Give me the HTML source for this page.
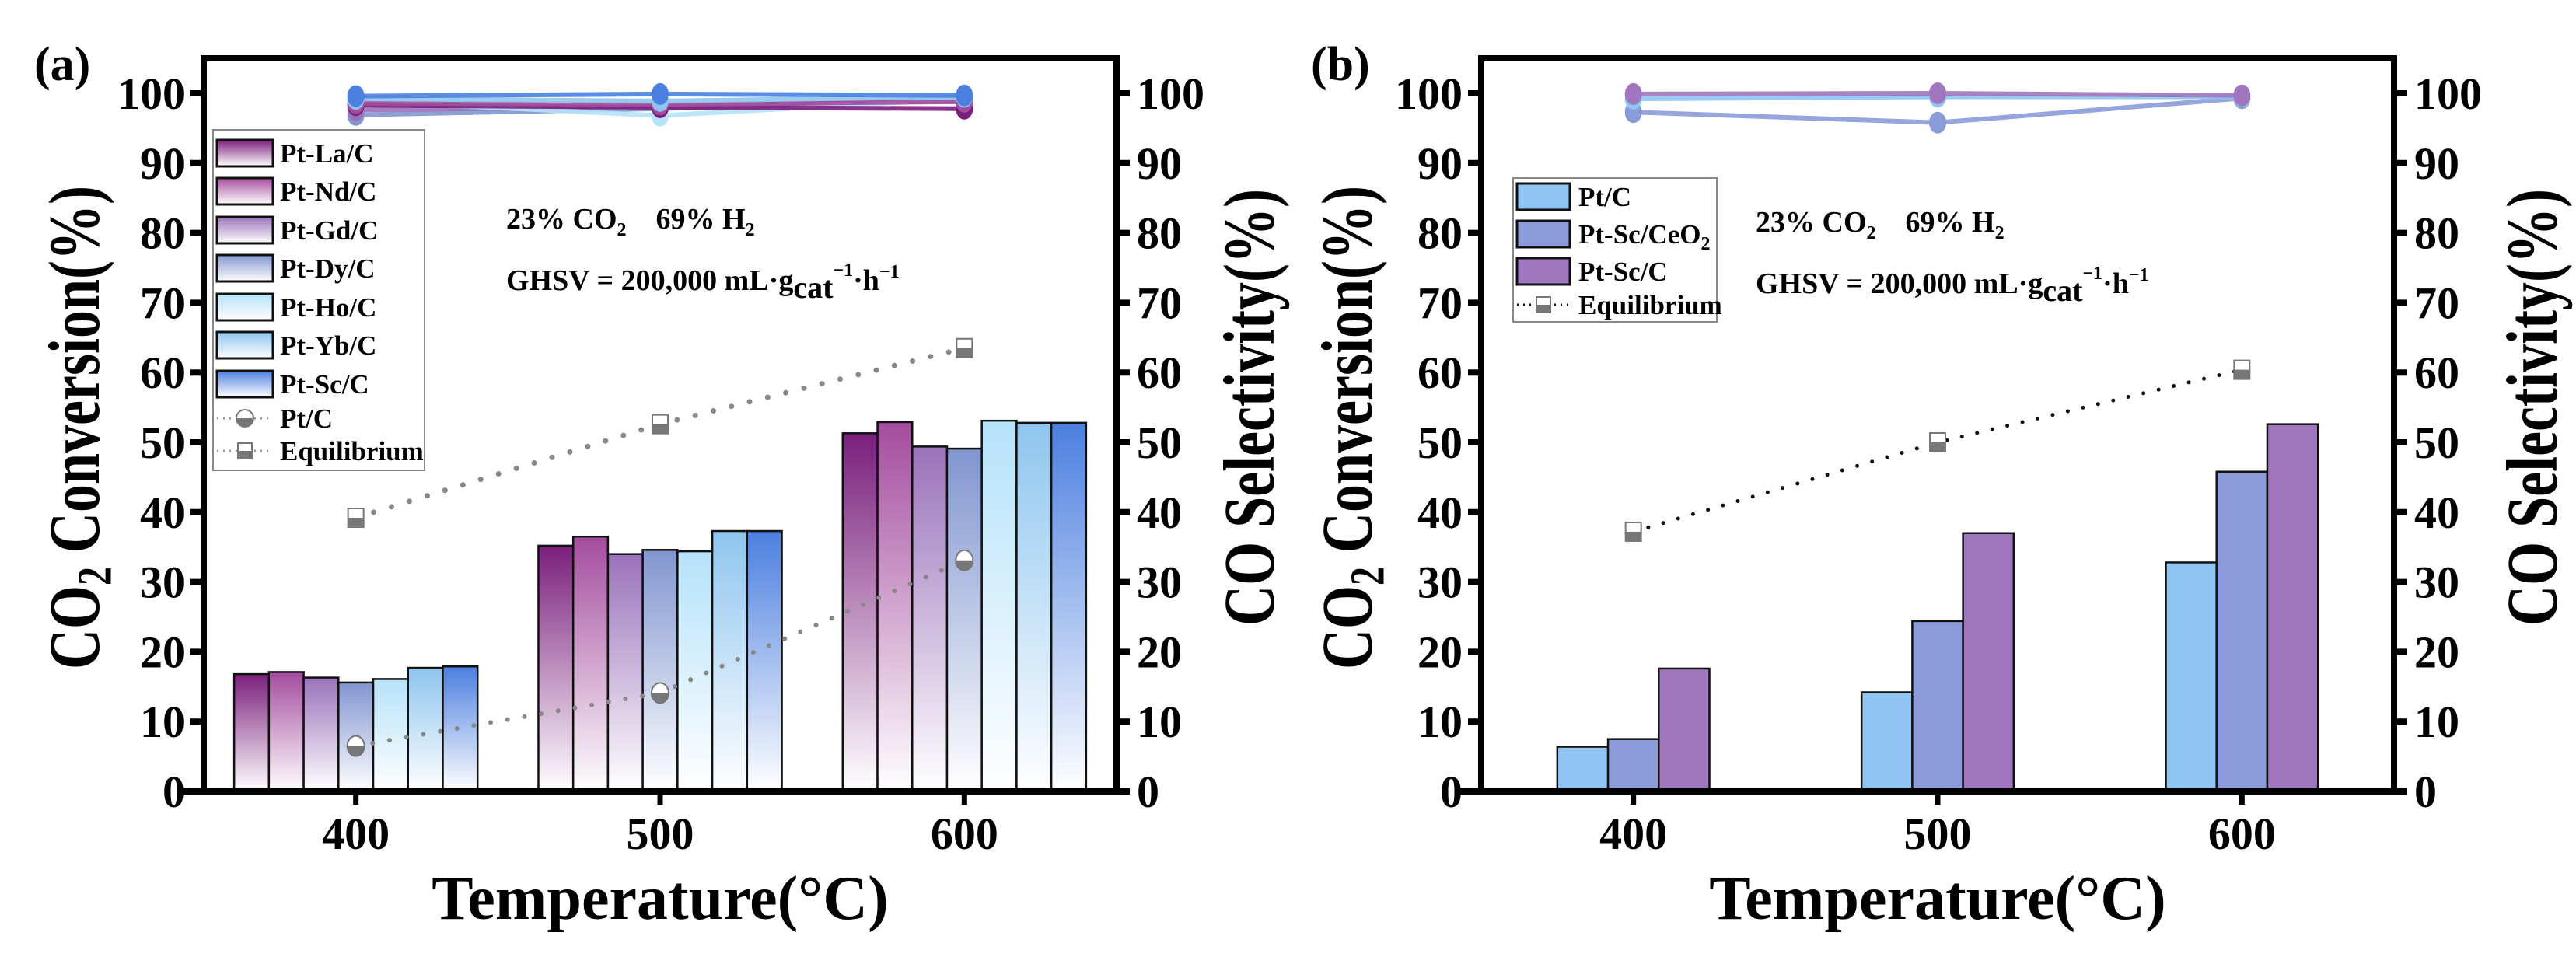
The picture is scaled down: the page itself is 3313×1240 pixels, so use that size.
<!DOCTYPE html>
<html><head><meta charset="utf-8"><style>
html,body{margin:0;padding:0;background:#fff;}
svg{display:block;font-family:"Liberation Serif",serif;font-weight:bold;}
</style></head><body>
<svg id="chart" width="3313" height="1240" viewBox="0 0 3313 1240" xmlns="http://www.w3.org/2000/svg">
<defs id="defs"></defs>
</svg>
<script>
const temps = [400, 500, 600];
const yTicks = [0,10,20,30,40,50,60,70,80,90,100];
const xTicks = [400, 500, 600];
// Panel (a)
const aNames = ["Pt-La/C","Pt-Nd/C","Pt-Gd/C","Pt-Dy/C","Pt-Ho/C","Pt-Yb/C","Pt-Sc/C"];
const aColors = ["#7a1f7c","#a44c9e","#9a72ba","#8196d0","#b5e2fa","#8ec5ef","#4b7fe0"];
const aLa = [16.8, 35.2, 51.3];
const aNd = [17.1, 36.5, 52.9];
const aGd = [16.3, 34.0, 49.4];
const aDy = [15.6, 34.6, 49.1];
const aHo = [16.1, 34.4, 53.1];
const aYb = [17.7, 37.3, 52.8];
const aSc = [17.9, 37.3, 52.8];
const aSelLa = [98.3, 98.0, 97.8];
const aSelNd = [98.6, 98.4, 98.8];
const aSelGd = [97.6, 98.1, 99.0];
const aSelDy = [96.9, 97.8, 99.3];
const aSelHo = [98.9, 96.8, 99.2];
const aSelYb = [99.2, 98.9, 99.5];
const aSelSc = [99.6, 99.9, 99.7];
const aPtC = [6.5, 14.1, 33.1];
const aEq = [39.2, 52.6, 63.5];
// Panel (b)
const bNames = ["Pt/C","Pt-Sc/CeO2","Pt-Sc/C"];
const bColors = ["#8fc4f3","#8b9bd9","#a077bf"];
const bPtC = [6.4, 14.2, 32.8];
const bCeO2 = [7.5, 24.4, 45.8];
const bScC = [17.6, 37.0, 52.6];
const bSelPtC = [99.2, 99.5, 99.5];
const bSelCeO2 = [97.3, 95.8, 99.3];
const bSelScC = [99.9, 100.0, 99.7];
const bEq = [37.2, 50.0, 60.4];

const NS = "http://www.w3.org/2000/svg";
const svg = document.getElementById('chart');
const defs = document.getElementById('defs');
function mk(tag, attrs, parent){const e=document.createElementNS(NS,tag);for(const k in attrs)e.setAttribute(k,attrs[k]);(parent||svg).appendChild(e);return e;}

function panel(p){
  const X0=p.left, X1=p.right, Ytop=75, Y0=1018, Y100=120;
  const x = t => X0 + (t-350)/300*(X1-X0);
  const y = v => Y0 + (Y100-Y0)*v/100;
  const g = mk('g',{});
  
  
  const n = p.series.length, gw = p.groupW, bw = gw/n;
  p.series.forEach((vals,si)=>{
    let fill = p.colors[si];
    if(p.gradient){
      const gr = mk('linearGradient',{id:p.id+'g'+si,x1:0,y1:1,x2:0,y2:0},defs);
      mk('stop',{offset:'0','stop-color':'#ffffff'},gr);
      mk('stop',{offset:'1','stop-color':p.colors[si]},gr);
      fill='url(#'+p.id+'g'+si+')';
    }
    vals.forEach((v,ti)=>{
      const xl = x(temps[ti]-gw/2+si*bw);
      const r = mk('rect',{x:xl,y:y(v),width:x(temps[ti]-gw/2+(si+1)*bw)-xl,height:Y0-y(v),fill:fill,stroke:'#111','stroke-width':2.5},g);
      
      
    });
  });
  p.dots.forEach(d=>{
    const pts = d.vals.map((v,i)=>x(temps[i])+','+y(v)).join(' ');
    const l = mk('polyline',{points:pts,fill:'none',stroke:d.color,'stroke-width':d.w,'stroke-dasharray':'0 '+d.gap,'stroke-linecap':'round'},g);
    
    
    d.vals.forEach((v,i)=>{
      const cx=x(temps[i]), cy=y(v);
      if(d.shape==='sq'){
        mk('rect',{x:cx-10,y:cy-12,width:20,height:24,fill:'#fff',stroke:'#777','stroke-width':2},g);
        const m=mk('rect',{x:cx-10,y:cy,width:20,height:12,fill:'#777'},g);
        
        
      } else {
        mk('ellipse',{cx:cx,cy:cy,rx:11,ry:13,fill:'#fff',stroke:'#777','stroke-width':2},g);
        const m=mk('path',{d:`M${cx-11},${cy} A11,13 0 0 0 ${cx+11},${cy} Z`,fill:'#777'},g);
        
        
      }
    });
  });
  p.sel.forEach((vals,si)=>{
    const pts = vals.map((v,i)=>x(temps[i])+','+y(v)).join(' ');
    const l=mk('polyline',{points:pts,fill:'none',stroke:p.selColors[si],'stroke-width':6,opacity:0.9},g);
    
    
    vals.forEach((v,i)=>{
      const c=mk('ellipse',{cx:x(temps[i]),cy:y(v),rx:11,ry:14,fill:p.selColors[si]},g);
      
      
    });
  });
  const f=mk('rect',{x:X0,y:Ytop,width:X1-X0,height:Y0-Ytop,fill:'none',stroke:'#000','stroke-width':8},g);
  
  
  mk('line',{x1:X0-30,y1:Y0,x2:X1+10,y2:Y0,stroke:'#000','stroke-width':9},g);
  yTicks.forEach(v=>{
    mk('line',{x1:X0,y1:y(v),x2:X0-17,y2:y(v),stroke:'#000','stroke-width':8},g);
    mk('line',{x1:X1,y1:y(v),x2:X1+17,y2:y(v),stroke:'#000','stroke-width':8},g);
    const t1=mk('text',{x:X0-24,y:y(v)+20,'font-size':58,'text-anchor':'end'},g);t1.textContent=v;
    
    const t2=mk('text',{x:X1+26,y:y(v)+20,'font-size':58,'text-anchor':'start'},g);t2.textContent=v;
    
  });
  xTicks.forEach(v=>{
    mk('line',{x1:x(v),y1:Y0,x2:x(v),y2:Y0+17,stroke:'#000','stroke-width':7},g);
    const t=mk('text',{x:x(v),y:1092,'font-size':58,'text-anchor':'middle'},g);t.textContent=v;
    
  });
  const xt=mk('text',{x:(X0+X1)/2,y:1182,'font-size':80,'text-anchor':'middle'},g);xt.textContent='Temperature(°C)';
  
  const yt=mk('text',{x:0,y:0,'font-size':72,'text-anchor':'middle',transform:`translate(${p.ytX},550) rotate(-90) scale(1,1.3)`},g);
  yt.innerHTML='CO<tspan font-size="48" dy="12">2</tspan><tspan dy="-12"> Conversion(%)</tspan>';
  
  const y2=mk('text',{x:0,y:0,'font-size':72,'text-anchor':'middle',transform:`translate(${p.y2X},524) rotate(-90) scale(1,1.3)`},g);
  y2.textContent='CO Selectivity(%)';
  
  const pl=mk('text',{x:p.labelX,y:103,'font-size':62},g);pl.textContent=p.label;
  
  const a1=mk('text',{x:p.annX,y:p.annY,'font-size':38},g);
  a1.innerHTML='23% CO<tspan font-size="24" dy="9">2</tspan><tspan dy="-9" xml:space="preserve">    69% H</tspan><tspan font-size="24" dy="9">2</tspan>';
  
  const a2=mk('text',{x:p.annX,y:p.annY+79,'font-size':38},g);
  a2.innerHTML='GHSV = 200,000 mL·g<tspan dy="10" font-size="40">cat</tspan><tspan dy="-28" font-size="24">−1</tspan><tspan dy="18">·h</tspan><tspan dy="-16" font-size="24">−1</tspan>';
  
  const L=p.legend;
  const lg=mk('g',{},g);
  
  mk('rect',{x:L.x,y:L.y,width:L.w,height:L.h,fill:'#fff',stroke:'#888','stroke-width':2},lg);
  L.items.forEach((it,i)=>{
    const yy=L.ys[i];
    const e=mk('g',{},lg);
    
    if(it.type==='bar'){
      let fill=it.color;
      if(p.gradient){fill='url(#'+p.id+'g'+i+')';}
      mk('rect',{x:L.x+5,y:yy-L.sh/2,width:L.sw,height:L.sh,fill:fill,stroke:'#111','stroke-width':3},e);
    } else {
      mk('line',{x1:L.x+5,y1:yy,x2:L.x+5+L.sw,y2:yy,stroke:it.color,'stroke-width':3,'stroke-dasharray':'2 6'},e);
      const cx=L.x+5+L.sw/2;
      if(it.type==='sq'){mk('rect',{x:cx-9,y:yy-10,width:18,height:20,fill:'#fff',stroke:'#777','stroke-width':2},e);mk('rect',{x:cx-9,y:yy,width:18,height:10,fill:'#777'},e);}
      else {mk('circle',{cx:cx,cy:yy,r:11,fill:'#fff',stroke:'#777','stroke-width':2},e);mk('path',{d:`M${cx-11},${yy} A11,11 0 0 0 ${cx+11},${yy} Z`,fill:'#777'},e);}
    }
    const t=mk('text',{x:L.tx,y:yy+12,'font-size':35},e);
    t.innerHTML=it.label;
  });
}

panel({id:'a',left:262,right:1436,label:'(a)',labelX:44,annX:651,annY:294,gradient:true,groupW:80,ytX:127,y2X:1638,
  names:aNames,colors:aColors,series:[aLa,aNd,aGd,aDy,aHo,aYb,aSc],
  sel:[aSelDy,aSelGd,aSelHo,aSelLa,aSelNd,aSelYb,aSelSc],
  selNames:["pt-dy-c","pt-gd-c","pt-ho-c","pt-la-c","pt-nd-c","pt-yb-c","pt-sc-c"],
  selColors:["#8196d0","#9a72ba","#b5e2fa","#7a1f7c","#a44c9e","#8ec5ef","#4b7fe0"],
  dots:[{name:'pt-c',vals:aPtC,color:'#888',shape:'circle',w:6,gap:22},{name:'equilibrium',vals:aEq,color:'#888',shape:'sq',w:7,gap:24}],
  legend:{x:274,y:167,w:272,h:438,sw:72,sh:34,tx:360,ys:[197,246,296,345,395,444,494,538,580],
    items:aNames.map((n,i)=>({type:'bar',label:n,color:aColors[i]})).concat([{type:'circ',label:'Pt/C',color:'#999'},{type:'sq',label:'Equilibrium',color:'#999'}])}
});
panel({id:'b',left:1905,right:3079,label:'(b)',labelX:1686,annX:2258,annY:298,gradient:false,groupW:50,ytX:1764,y2X:3288,
  names:bNames,colors:bColors,series:[bPtC,bCeO2,bScC],
  sel:[bSelCeO2,bSelPtC,bSelScC],selNames:["pt-sc-ceo2","pt-c","pt-sc-c"],selColors:["#8b9bd9","#8fc4f3","#a077bf"],
  dots:[{name:'equilibrium',vals:bEq,color:'#111',shape:'sq',w:5,gap:20}],
  legend:{x:1946,y:229,w:262,h:185,sw:68,sh:34,tx:2030,ys:[253,301,349,392],items:[
    {type:'bar',label:'Pt/C',color:bColors[0]},
    {type:'bar',label:'Pt-Sc/CeO<tspan font-size="24" dy="8">2</tspan>',color:bColors[1]},
    {type:'bar',label:'Pt-Sc/C',color:bColors[2]},
    {type:'sq',label:'Equilibrium',color:'#111'}]}
});
</script>
</body></html>
